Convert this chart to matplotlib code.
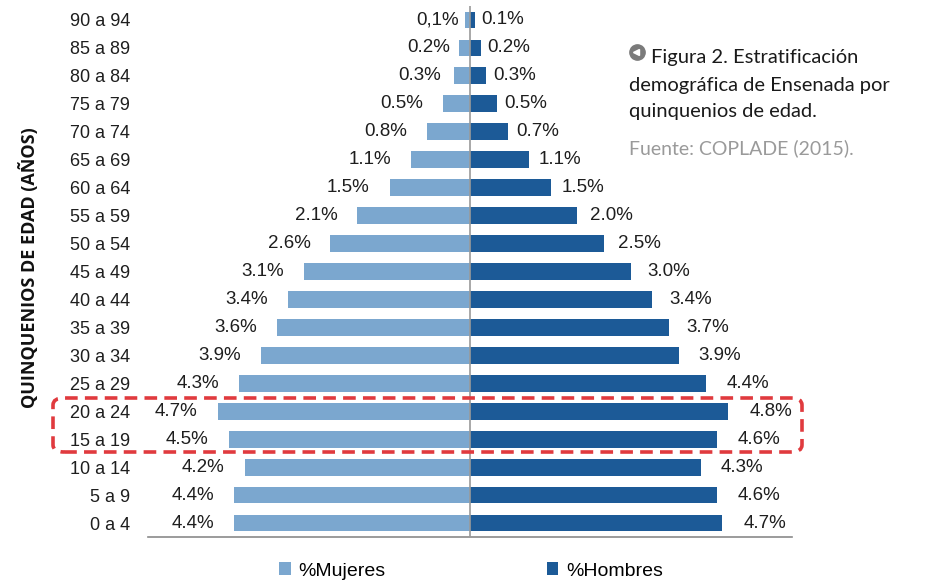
import matplotlib.pyplot as plt
from matplotlib.patches import FancyBboxPatch
from matplotlib.lines import Line2D
import numpy as np

# Data: age groups from youngest to oldest
edades = ["0 a 4", "5 a 9", "10 a 14", "15 a 19", "20 a 24", "25 a 29", "30 a 34",
          "35 a 39", "40 a 44", "45 a 49", "50 a 54", "55 a 59", "60 a 64",
          "65 a 69", "70 a 74", "75 a 79", "80 a 84", "85 a 89", "90 a 94"]
mujeres = [4.4, 4.4, 4.2, 4.5, 4.7, 4.3, 3.9, 3.6, 3.4, 3.1, 2.6, 2.1, 1.5,
           1.1, 0.8, 0.5, 0.3, 0.2, 0.1]
hombres = [4.7, 4.6, 4.3, 4.6, 4.8, 4.4, 3.9, 3.7, 3.4, 3.0, 2.5, 2.0, 1.5,
           1.1, 0.7, 0.5, 0.3, 0.2, 0.1]
etiq_mujeres = ["4.4%", "4.4%", "4.2%", "4.5%", "4.7%", "4.3%", "3.9%", "3.6%",
                "3.4%", "3.1%", "2.6%", "2.1%", "1.5%", "1.1%", "0.8%", "0.5%",
                "0.3%", "0.2%", "0,1%"]

col_muj = "#7ba7cf"
col_hom = "#1c5a97"
txt_col = "#1e1e1e"

W, H = 931, 583
fig = plt.figure(figsize=(W / 100, H / 100), dpi=100)
ax = fig.add_axes([148 / W, (H - 537) / H, 644 / W, 531 / H])
px = 12 / 644  # data units per pixel

y = np.arange(len(edades))
b1 = ax.barh(y, [-v for v in mujeres], height=0.6, color=col_muj, label="%Mujeres")
b2 = ax.barh(y, hombres, height=0.6, color=col_hom, label="%Hombres")
ax.axvline(0, color="#9a9a9a", lw=1.2, zorder=3)

# value labels
for i, (m, h) in enumerate(zip(mujeres, hombres)):
    gap_m = 20 * min(1, (m + 0.05) / 0.55)
    ax.text(-(m + gap_m * px), i, etiq_mujeres[i], ha="right", va="center",
            fontsize=13.5, color=txt_col, family="Liberation Sans")
    gap_h = 6 + 3.3 * h
    ax.text(h + gap_h * px, i, f"{h:.1f}%", ha="left", va="center",
            fontsize=13.5, color=txt_col, family="Liberation Sans")

ax.set_xlim(-6, 6)
ax.set_ylim(-0.5, len(edades) - 0.5)
ax.set_xticks([])
ax.set_yticks(y)
ax.set_yticklabels(edades, fontsize=13, color=txt_col, family="Liberation Sans")
ax.tick_params(axis="y", length=0, pad=13)
for s in ["top", "left", "right"]:
    ax.spines[s].set_visible(False)
ax.spines["bottom"].set_color("#8a8a8a")
ax.spines["bottom"].set_linewidth(1.2)

# y axis title
fig.text(29 / W, (H - 268) / H, "QUINQUENIOS DE EDAD (AÑOS)", rotation=90,
         ha="center", va="center", fontsize=13, fontweight="bold",
         family="Open Sans", color="#111111")

# red dashed box highlighting 15-24
box = FancyBboxPatch((53 / W, (H - 452) / H), 749 / W, 54 / H,
                     boxstyle="round,pad=0,rounding_size=0.012",
                     transform=fig.transFigure, fill=False, edgecolor="#e03a3e",
                     lw=2.6, linestyle=(0, (3.5, 2)), zorder=5)
fig.add_artist(box)

# legend
fig.legend(handles=[b1, b2], loc="center", bbox_to_anchor=(471 / W, (H - 571) / H),
           ncol=2, frameon=False, handlelength=0.6, handleheight=0.6,
           handletextpad=0.4, columnspacing=8.3,
           prop={"family": "Liberation Sans", "size": 14})

# caption
fig.add_artist(Line2D([637 / W], [(H - 52) / H], marker="o", markersize=11,
                      color="#7a7a7a", transform=fig.transFigure))
fig.add_artist(Line2D([636 / W], [(H - 52) / H], marker="<", markersize=5,
                      color="white", transform=fig.transFigure))
cap_kw = dict(ha="left", va="center", fontsize=14.5, family="Lato", color="#1a1a1a")
fig.text(651 / W, (H - 57) / H, "Figura 2. Estratificación", **cap_kw)
fig.text(629 / W, (H - 85) / H, "demográfica de Ensenada por", **cap_kw)
fig.text(629 / W, (H - 111) / H, "quinquenios de edad.", **cap_kw)
fig.text(629 / W, (H - 148) / H, "Fuente: COPLADE (2015).", ha="left", va="center",
         fontsize=14, family="Lato", color="#9a9a9a")

fig.savefig("out.png", dpi=100)
